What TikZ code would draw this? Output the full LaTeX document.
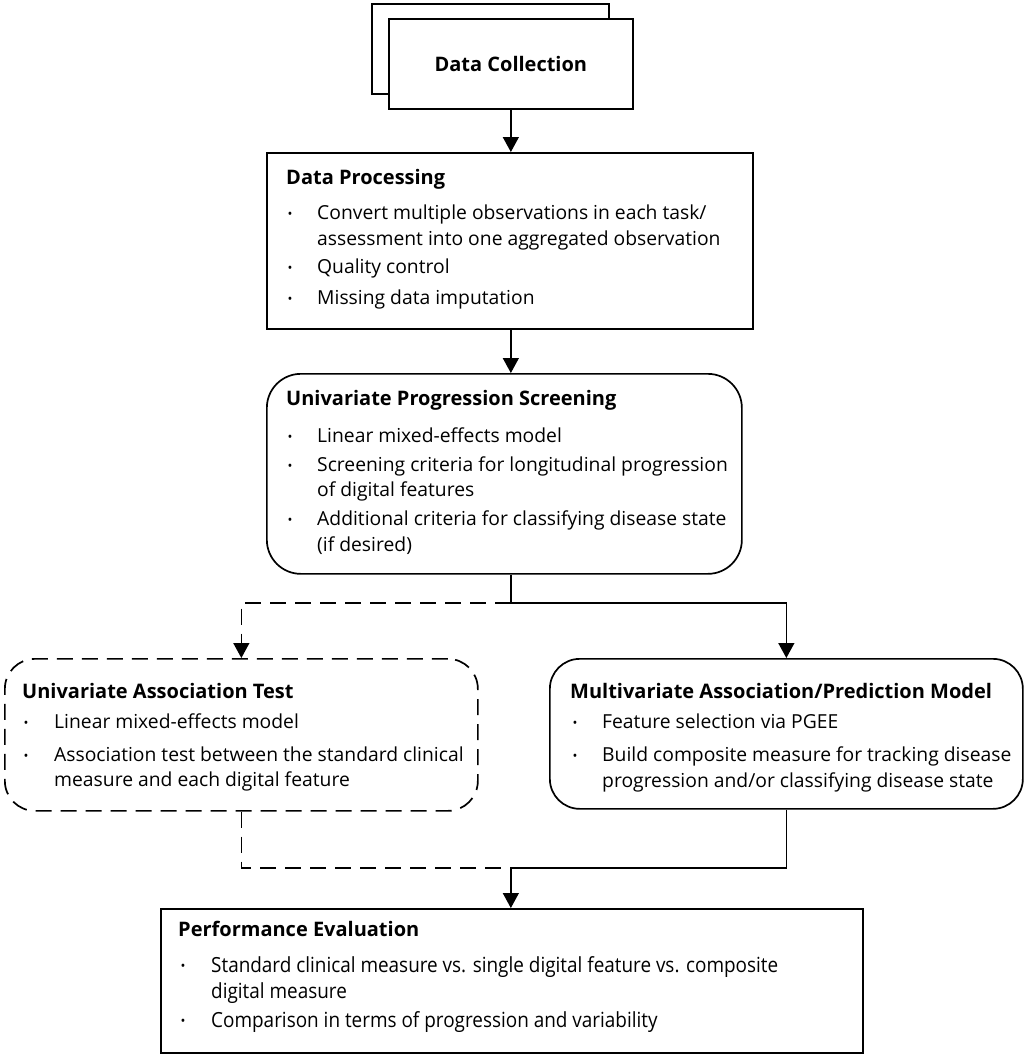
\documentclass[tikz,border=0pt]{standalone}
\usepackage{fontspec}
\setmainfont{Open Sans}
\usetikzlibrary{arrows.meta}
\newcommand\bodyf{\fontsize{19.3}{24}\selectfont}
\newcommand\ttlf{\fontsize{20}{24}\selectfont\bfseries}
\tikzset{
  box/.style={draw, line width=1.7pt, inner sep=0pt, anchor=north west},
  ttl/.style={font=\ttlf, anchor=west, text height=17pt, text depth=4pt, inner sep=0pt},
  ln/.style={font=\bodyf, anchor=west, text height=17pt, text depth=4pt, inner sep=0pt},
  pln/.style={ln, xscale=0.98, yscale=1.08, transform shape},
  bul/.style={font=\fontsize{13}{14}\selectfont, anchor=center, inner sep=0pt},
  arr/.style={-{Triangle[length=15pt,width=16pt]}, line width=1.4pt},
  conn/.style={line width=1.4pt},
  dsh/.style={dash pattern=on 16pt off 9pt}
}
\begin{document}
\begin{tikzpicture}[x=1pt,y=-1pt]
\useasboundingbox (0,0) rectangle (1026,1055);
% Data collection
\node[box, minimum width=237pt, minimum height=90pt] (dcback) at (371,3) {};
\node[box, fill=white, minimum width=244pt, minimum height=90pt, font=\ttlf] (dc) at (388,18) {Data Collection};
% Data processing
\node[box, minimum width=486pt, minimum height=176pt] (dp) at (266,152) {};
\node[ttl] (dpt) at (286,178) {Data Processing};
\node[bul] (dpb1) at (290,215) {•};
\node[ln] (dpl1) at (317,213) {Convert multiple observations in each task/};
\node[ln] (dpl2) at (317,239) {assessment into one aggregated observation};
\node[bul] (dpb2) at (290,269) {•};
\node[ln] (dpl3) at (317,267) {Quality control};
\node[bul] (dpb3) at (290,300) {•};
\node[ln] (dpl4) at (317,298) {Missing data imputation};
% Univariate progression screening
\node[box, rounded corners=34pt, minimum width=475pt, minimum height=200pt] (ups) at (266,373) {};
\node[ttl] (upst) at (286,399) {Univariate Progression Screening};
\node[bul] (upsb1) at (290,438) {•};
\node[ln] (upsl1) at (317,436) {Linear mixed-effects model};
\node[bul] (upsb2) at (290,467) {•};
\node[ln] (upsl2) at (317,465) {Screening criteria for longitudinal progression};
\node[ln] (upsl3) at (317,490) {of digital features};
\node[bul] (upsb3) at (290,521) {•};
\node[ln] (upsl4) at (317,519) {Additional criteria for classifying disease state};
\node[ln] (upsl5) at (317,545) {(if desired)};
% Univariate association test
\node[box, dsh, rounded corners=30pt, minimum width=473pt, minimum height=152pt] (uat) at (4,658) {};
\node[ttl] (uatt) at (22,692) {Univariate Association Test};
\node[bul] (uatb1) at (26,724) {•};
\node[ln] (uatl1) at (54,722) {Linear mixed-effects model};
\node[bul] (uatb2) at (26,757) {•};
\node[ln] (uatl2) at (54,755) {Association test between the standard clinical};
\node[ln] (uatl3) at (54,780) {measure and each digital feature};
% Multivariate
\node[box, rounded corners=30pt, minimum width=473pt, minimum height=150pt] (map) at (549,658) {};
\node[ttl] (mapt) at (570,692) {Multivariate Association/Prediction Model};
\node[bul] (mapb1) at (575,724) {•};
\node[ln] (mapl1) at (602,722) {Feature selection via PGEE};
\node[bul] (mapb2) at (575,757) {•};
\node[ln] (mapl2) at (602,755) {Build composite measure for tracking disease};
\node[ln] (mapl3) at (602,781) {progression and/or classifying disease state};
% Performance evaluation
\node[box, minimum width=702pt, minimum height=144pt] (pe) at (160,908) {};
\node[ttl] (pet) at (178,930) {Performance Evaluation};
\node[bul] (peb1) at (183,967) {•};
\node[pln] (pel1) at (211,965) {Standard clinical measure vs. single digital feature vs. composite};
\node[pln] (pel2) at (211,991) {digital measure};
\node[bul] (peb2) at (183,1022) {•};
\node[pln] (pel3) at (211,1020) {Comparison in terms of progression and variability};
% connectors
\coordinate (split) at (dc.south |- 0,603);
\coordinate (merge) at (dc.south |- 0,868);
\draw[arr] (dc.south) -- (dc.south |- dp.north);
\draw[arr] (dc.south |- dp.south) -- (dc.south |- ups.north);
\draw[conn] (dc.south |- ups.south) -- (split);
\draw[arr, dsh] (split) -| (uat.north);
\draw[arr] (split) -| (map.north);
\draw[conn, dsh] (uat.south) |- (merge);
\draw[conn] (map.south) |- (merge);
\draw[arr] (merge) -- (dc.south |- pe.north);
\end{tikzpicture}
\end{document}
